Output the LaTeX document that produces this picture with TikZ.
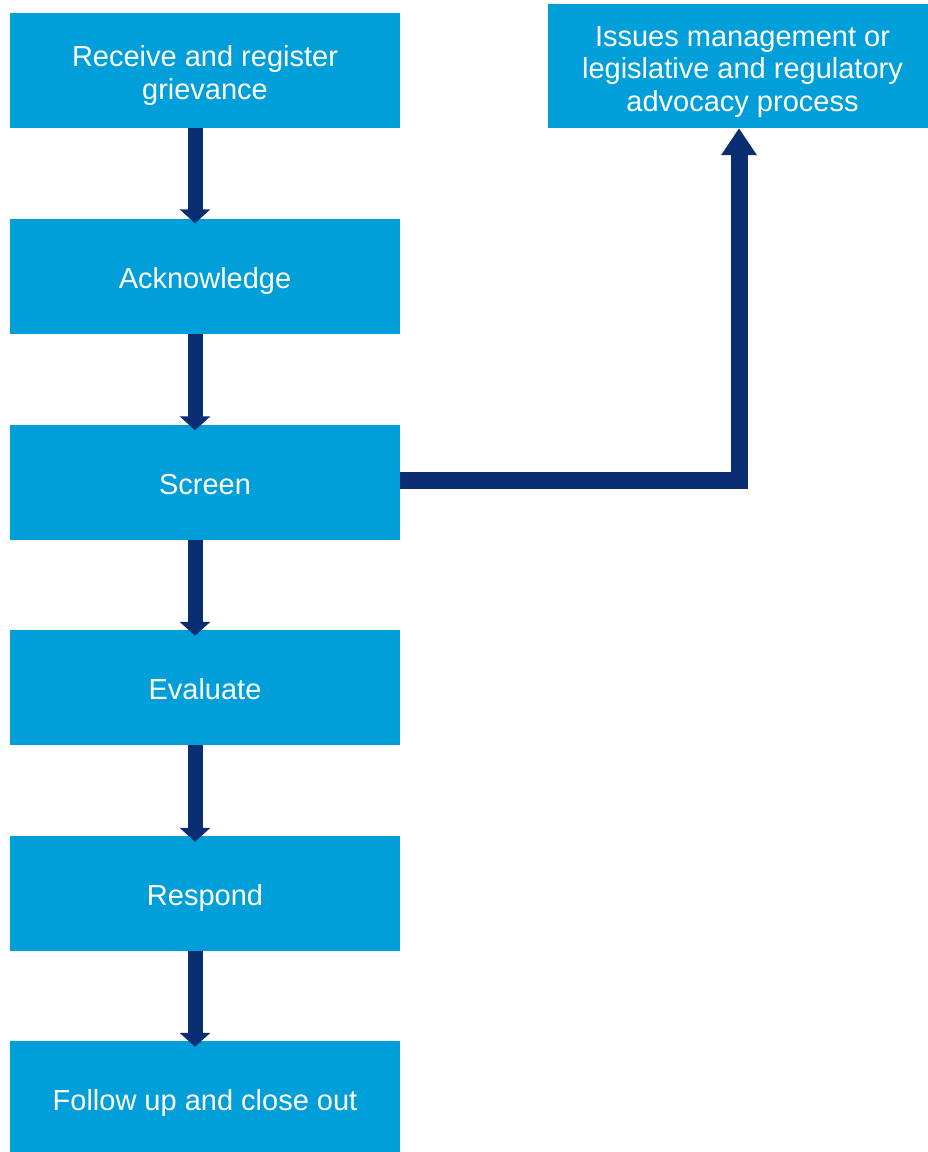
\documentclass[tikz,border=0pt]{standalone}
\usepackage{fontspec}
\setmainfont{Liberation Sans}
\usetikzlibrary{arrows.meta,calc}
\definecolor{boxblue}{RGB}{0,159,218}
\definecolor{navy}{RGB}{11,45,113}
\newcommand\boxtext[1]{\raisebox{-12pt}[0pt][0pt]{\begin{tabular}{@{}c@{}}#1\end{tabular}}}
\tikzset{
  stepbox/.style={fill=boxblue, draw=none, text=white,
    minimum width=390pt, minimum height=115pt, inner sep=0pt,
    font=\fontsize{29pt}{33pt}\selectfont},
  downarrow/.style={draw=navy, line width=15pt,
    -{Triangle[width=30pt,length=14pt]}},
  sidearrow/.style={draw=navy, line width=17pt, line join=miter,
    -{Triangle[width=34pt,length=27pt]}}
}
\begin{document}
\begin{tikzpicture}[x=1pt,y=1pt]
\useasboundingbox (0,0) rectangle (928,-1152);
\node[stepbox] (b1) at (205,-70.5) {\boxtext{Receive and register\\grievance}};
\node[stepbox] (b2) at (205,-276) {\boxtext{Acknowledge}};
\node[stepbox] (b3) at (205,-482) {\boxtext{Screen}};
\node[stepbox] (b4) at (205,-687.5) {\boxtext{Evaluate}};
\node[stepbox] (b5) at (205,-893.5) {\boxtext{Respond}};
\node[stepbox] (b6) at (205,-1098.5) {\boxtext{Follow up and close out}};
\node[stepbox, minimum width=380pt, minimum height=124pt] (r) at (738,-66)
  {\hspace*{9pt}\boxtext{\raisebox{-1.5pt}{Issues management or}\\legislative and regulatory\\advocacy process}};
\draw[downarrow] ([xshift=-10pt]b1.south) -- ([xshift=-10pt,yshift=-5pt]b2.north);
\draw[downarrow] ([xshift=-10pt]b2.south) -- ([xshift=-10pt,yshift=-6pt]b3.north);
\draw[downarrow] ([xshift=-10pt]b3.south) -- ([xshift=-10pt,yshift=-6pt]b4.north);
\draw[downarrow] ([xshift=-10pt]b4.south) -- ([xshift=-10pt,yshift=-6pt]b5.north);
\draw[downarrow] ([xshift=-10pt]b5.south) -- ([xshift=-10pt,yshift=-6pt]b6.north);
\draw[sidearrow] ([yshift=1.5pt]b3.east) -| ([xshift=1pt]r.south);
\end{tikzpicture}
\end{document}
